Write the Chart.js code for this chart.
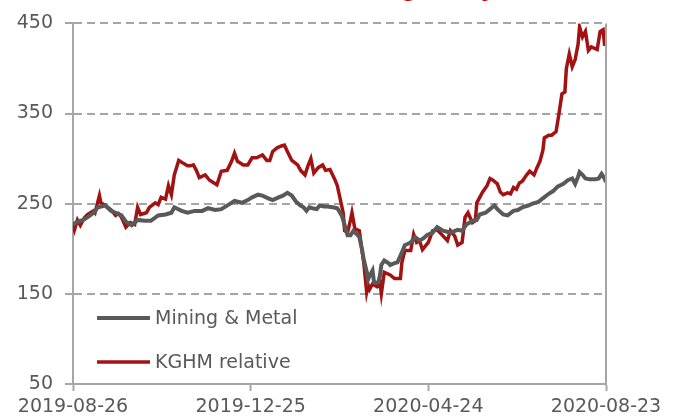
<!DOCTYPE html>
<html>
<head>
<meta charset="utf-8">
<script src="https://cdn.jsdelivr.net/npm/chart.js@4/dist/chart.umd.min.js"></script>
<style>
  html, body { margin: 0; padding: 0; background: #fff; }
  #wrap { width: 679px; height: 419px; }
</style>
</head>
<body>
<div id="wrap"><canvas id="kghm" width="679" height="419"></canvas></div>
<script>
// day offsets from 2019-08-26 and index values
var xLabels = ['2019-08-26', '2019-12-25', '2020-04-24', '2020-08-23'];
var xTickDays = [0, 121, 242, 363];
var yTicks = [50, 150, 250, 350, 450];

var metalDays = [0, 3, 7, 10, 14, 17, 22, 26, 29, 33, 36, 40, 44, 49, 53, 58, 63, 67, 69, 74,
  78, 83, 88, 92, 97, 101, 106, 110, 115, 119, 122, 126, 129, 133, 136, 140, 143, 146, 149, 152,
  155, 157, 159, 161, 163, 166, 168, 171, 173, 177, 180, 183, 184, 187, 189, 191, 194, 195, 197, 198,
  200, 201, 202, 204, 205, 206, 208, 209, 210, 212, 215, 216, 219, 221, 224, 226, 230, 233, 236, 239,
  241, 245, 248, 252, 257, 262, 265, 268, 272, 275, 277, 281, 284, 287, 289, 293, 296, 300, 303, 306,
  310, 313, 317, 320, 324, 327, 330, 334, 337, 340, 342, 344, 345, 347, 349, 352, 356, 358, 360, 362, 363];
var metalValues = [227, 230, 232, 235, 240, 246, 248, 242, 240, 237, 230, 226, 232, 231, 231, 237, 238, 240, 246, 242,
  240, 242, 242, 245, 243, 244, 249, 253, 251, 254, 257, 260, 259, 256, 254, 257, 259, 262, 259, 252,
  248, 246, 242, 246, 245, 244, 248, 247, 247, 246, 245, 237, 232, 215, 215, 220, 215, 213, 198, 188,
  175, 166, 170, 176, 163, 162, 163, 170, 182, 187, 184, 182, 184, 185, 196, 204, 207, 213, 209, 212,
  215, 218, 224, 220, 218, 221, 220, 227, 231, 232, 238, 240, 244, 248, 244, 238, 237, 242, 243, 246,
  248, 250, 252, 256, 261, 264, 269, 272, 276, 278, 272, 280, 285, 282, 278, 277, 277, 278, 283, 278, 274];

var kghmDays = [0, 1, 3, 5, 8, 10, 14, 15, 18, 19, 22, 26, 29, 31, 33, 36, 39, 42, 44, 46,
  50, 52, 56, 58, 60, 63, 65, 67, 69, 72, 75, 78, 80, 82, 84, 86, 90, 93, 98, 101,
  105, 108, 110, 112, 116, 119, 122, 125, 129, 132, 134, 136, 139, 142, 144, 146, 149, 153, 155, 158,
  160, 162, 164, 167, 170, 172, 175, 178, 180, 182, 184, 185, 187, 189, 190, 192, 195, 197, 198, 200,
  201, 202, 204, 207, 209, 210, 212, 216, 219, 223, 224, 226, 230, 232, 234, 236, 238, 242, 245, 248,
  251, 255, 257, 260, 262, 265, 267, 269, 272, 274, 275, 277, 279, 282, 284, 286, 289, 291, 293, 296,
  298, 300, 302, 304, 306, 309, 311, 314, 316, 318, 320, 321, 324, 326, 329, 331, 333, 335, 336, 338,
  340, 342, 344, 345, 347, 349, 351, 353, 357, 359, 361, 362, 363];
var kghmValues = [227, 221, 232, 226, 235, 238, 242, 240, 259, 251, 248, 243, 237, 239, 235, 224, 229, 227, 246, 238,
  240, 246, 251, 249, 257, 255, 270, 260, 282, 298, 295, 292, 292, 293, 287, 279, 282, 276, 271, 286,
  287, 297, 306, 297, 293, 293, 301, 301, 304, 298, 298, 308, 312, 314, 315, 308, 298, 293, 287, 282,
  292, 300, 284, 290, 293, 287, 288, 278, 270, 255, 240, 220, 218, 232, 240, 222, 220, 196, 185, 152,
  160, 155, 161, 158, 163, 150, 174, 171, 167, 167, 185, 198, 198, 216, 207, 209, 199, 207, 220, 221,
  216, 209, 220, 214, 204, 207, 235, 240, 229, 231, 251, 257, 263, 270, 278, 276, 272, 263, 260, 262,
  261, 268, 266, 273, 275, 282, 286, 282, 290, 297, 309, 323, 326, 326, 330, 350, 372, 374, 400, 416,
  402, 410, 427, 446, 435, 441, 420, 424, 421, 441, 443, 427, 427];

function toPoints(days, values) {
  return days.map(function (d, i) { return { x: d, y: values[i] }; });
}

var axisGrey = '#a6a6a6';
var labelGrey = '#595959';
var font = { family: 'DejaVu Sans', size: 19 };

// legend drawn inside the plot, like the original
var insideLegend = {
  id: 'insideLegend',
  afterDraw: function (chart, args, opts) {
    var ctx = chart.ctx;
    ctx.save();
    ctx.font = '19px "DejaVu Sans"';
    ctx.textBaseline = 'middle';
    chart.data.datasets.forEach(function (ds, i) {
      var y = opts.y + i * opts.gap;
      ctx.strokeStyle = ds.borderColor;
      ctx.lineWidth = ds.borderWidth;
      ctx.beginPath();
      ctx.moveTo(opts.x, y);
      ctx.lineTo(opts.x + opts.len, y);
      ctx.stroke();
      ctx.fillStyle = labelGrey;
      ctx.fillText(ds.label, opts.x + opts.len + 5, y + 1);
    });
    ctx.restore();
  }
};

// right frame line and the cut-off red heading at the top edge
var frame = {
  id: 'frame',
  afterDraw: function (chart, args, opts) {
    var ctx = chart.ctx, a = chart.chartArea;
    ctx.save();
    ctx.strokeStyle = axisGrey;
    ctx.lineWidth = 2;
    ctx.beginPath();
    ctx.moveTo(a.right, a.top);
    ctx.lineTo(a.right, a.bottom);
    ctx.stroke();
    ctx.fillStyle = '#c00000';
    ctx.font = 'bold 22px "DejaVu Sans"';
    ctx.textAlign = 'right';
    ctx.textBaseline = 'alphabetic';
    ctx.fillText(opts.text, opts.right, opts.baseline);
    ctx.restore();
  }
};

new Chart(document.getElementById('kghm'), {
  type: 'line',
  data: {
    datasets: [{
      label: 'Mining & Metal',
      data: toPoints(metalDays, metalValues),
      borderColor: '#595959',
      borderWidth: 4,
      pointRadius: 0,
      tension: 0
    }, {
      label: 'KGHM relative',
      data: toPoints(kghmDays, kghmValues),
      borderColor: '#a31212',
      borderWidth: 3.5,
      pointRadius: 0,
      tension: 0
    }]
  },
  options: {
    responsive: false,
    animation: false,
    layout: { padding: { left: 0, right: 73, top: 16, bottom: 0 } },
    plugins: {
      legend: { display: false },
      tooltip: { enabled: false },
      insideLegend: { x: 97, y: 318, gap: 44, len: 53 },
      frame: { text: 'KGHM vs. Mining (daily)', right: 505, baseline: -3 }
    },
    scales: {
      x: {
        type: 'linear',
        min: 0,
        max: 363,
        afterFit: function (s) { s.height = 35; },
        afterBuildTicks: function (s) {
          s.ticks = xTickDays.map(function (v) { return { value: v }; });
        },
        ticks: {
          color: labelGrey,
          font: font,
          padding: 5,
          maxRotation: 0,
          autoSkip: false,
          callback: function (v) { return xLabels[xTickDays.indexOf(v)]; }
        },
        grid: {
          drawOnChartArea: false,
          drawTicks: true,
          tickLength: 7,
          tickColor: axisGrey,
          tickWidth: 2
        },
        border: { color: axisGrey, width: 2 }
      },
      y: {
        min: 50,
        max: 450,
        afterFit: function (s) { s.width = 73; },
        afterBuildTicks: function (s) {
          s.ticks = yTicks.map(function (v) { return { value: v }; });
        },
        ticks: { color: labelGrey, font: font, padding: 12 },
        grid: {
          color: axisGrey,
          lineWidth: 2,
          tickLength: 8,
          tickColor: axisGrey,
          tickWidth: 2,
          tickBorderDash: [0, 0]
        },
        border: { color: axisGrey, width: 2, dash: [8, 5] }
      }
    }
  },
  plugins: [insideLegend, frame]
});
</script>
</body>
</html>
